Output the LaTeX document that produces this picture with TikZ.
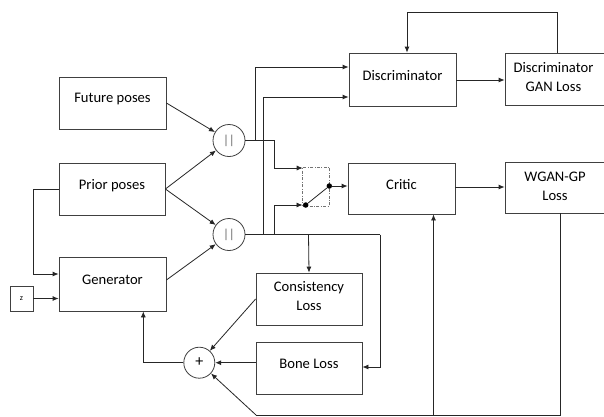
\documentclass[tikz,border=0pt]{standalone}
\usepackage{fontspec}
\setmainfont{Carlito}
\usetikzlibrary{arrows.meta,calc}
\begin{document}
\begin{tikzpicture}[x=1pt,y=-1pt,
  line width=0.8pt,
  every node/.style={text=black},
  box/.style={draw=black!75, line width=0.8pt, rectangle, inner sep=0pt, font=\fontsize{14.6}{19}\selectfont, align=center},
  circ/.style={draw=black!75, line width=0.8pt, circle, inner sep=0pt, minimum size=32pt},
  conn/.style={draw=black!85, line width=0.8pt},
  arr/.style={conn, -{Latex[length=6pt,width=5pt]}},
  dotst/.style={circle, fill=black, inner sep=0pt, minimum size=5.5pt},
  swbox/.style={draw=black!55, line width=0.8pt, dash pattern=on 3pt off 1.5pt on 0.8pt off 1.5pt, inner sep=0pt}
]
\clip (0,0) rectangle (604,416);
\fill[white] (0,0) rectangle (604,416);

% boxes
\node[box, minimum width=107pt, minimum height=52pt] (fut) at (112.5,103) {};
\node[anchor=center, font=\fontsize{14.6}{19}\selectfont] (futt) at (112.5,99) {Future poses};
\node[box, minimum width=106pt, minimum height=52pt] (prior) at (112,189) {};
\node[anchor=center, font=\fontsize{14.6}{19}\selectfont] (priort) at (112,185.5) {Prior poses};
\node[box, minimum width=107pt, minimum height=54pt] (gen) at (112.5,284) {};
\node[anchor=center, font=\fontsize{14.6}{19}\selectfont] (gent) at (112.5,280) {Generator};
\node[box, minimum width=23pt, minimum height=25pt] (z) at (21.5,298.5) {};
\node[font=\fontsize{8}{9}\selectfont] (zt) at (21.5,298.5) {z};

\node[box, minimum width=107pt, minimum height=53pt] (disc) at (402.5,79.5) {};
\node[anchor=center, font=\fontsize{14.6}{19}\selectfont] (disct) at (402.5,76) {Discriminator};
\node[box, minimum width=99pt, minimum height=52pt] (dgan) at (554.5,79) {};
\node[anchor=center, font=\fontsize{14.6}{19}\selectfont, align=center] (dgant) at (553.5,77.5) {Discriminator\\GAN Loss};

\node[box, minimum width=107pt, minimum height=51pt] (critic) at (401.5,188.5) {};
\node[anchor=center, font=\fontsize{14.6}{19}\selectfont] (critict) at (401.5,184.5) {Critic};
\node[box, minimum width=99pt, minimum height=51pt] (wgan) at (554.5,187.5) {};
\node[anchor=center, font=\fontsize{14.6}{19}\selectfont, align=center] (wgant) at (555,186) {WGAN-GP\\Loss};

\node[box, minimum width=106pt, minimum height=52pt] (cons) at (309,299) {};
\node[anchor=center, font=\fontsize{14.6}{19}\selectfont, align=center] (const) at (309,296.5) {Consistency\\Loss};
\node[box, minimum width=106pt, minimum height=52pt] (bone) at (309,368) {};
\node[anchor=center, font=\fontsize{14.6}{19}\selectfont] (bonet) at (309,363.5) {Bone Loss};

% circles
\node[circ] (c1) at (229,140.5) {};
\node[text=black!60, font=\fontsize{13}{13}\selectfont] (c1t) at (229,140.5) {||};
\node[circ] (c2) at (229,234.5) {};
\node[text=black!60, font=\fontsize{13}{13}\selectfont] (c2t) at (229,234.5) {||};
\node[circ, minimum size=31pt] (plus) at (199.3,362.7) {};
\node[font=\fontsize{16}{16}\selectfont] (plust) at (199.3,362) {+};

% switch
\node[swbox, minimum width=26.6pt, minimum height=38.7pt] (sw) at (316,186.7) {};
\node[dotst] (d1) at (305.7,205) {};
\node[dotst] (d2) at (329.3,186) {};
\draw[conn] (d1) -- (d2);

% coordinates
\coordinate (j1) at (255.3,140.5);
\coordinate (k1) at (274,140.5);
\coordinate (j2) at (263.3,234.5);
\coordinate (k2) at (274.3,234.5);
\coordinate (k3) at (308.5,234.5);
\coordinate (k4) at (380,234.5);
\coordinate (b1) at (560.7,415);
\coordinate (b2) at (256,415);
\coordinate (b3) at (433.5,415);
\coordinate (sin) at (302.7,168);
\coordinate (f1) at (557,12);

% connectors left
\draw[arr] (fut.east) -- (c1);
\draw[arr] (prior.east) -- (c1);
\draw[arr] (prior.east) -- (c2);
\draw[arr] ([yshift=4pt]gen.east) -- (c2);
\draw[arr] (prior.west) -- ++(-25,0) |- ([yshift=10pt]gen.west);
\draw[arr] (z.east) -- (z.east -| gen.west);

% circle outputs
\draw[arr] (c1.east) -- (k1) |- (sin);
\draw[arr] (j1) |- ([yshift=12.5pt]disc.west);
\draw[conn] (c2.east) -- (k4);
\draw[arr] (k4) |- ([yshift=1pt]bone.east);
\draw[arr] (j2) |- ([yshift=-17.5pt]disc.west);
\draw[arr] (k2) |- (d1);
\draw[arr] (k3) -- (cons.north);
\draw[arr] (d2) -- (d2 -| critic.west);

% right side
\draw[arr] (disc.east |- 0,80) -- (dgan.west |- 0,80);
\draw[arr] (f1 |- dgan.north) -- (f1) -| ([xshift=4.5pt]disc.north);
\draw[arr] (critic.east |- 0,187) -- (wgan.west |- 0,187);
\draw[conn] (b1 |- wgan.south) -- (b1) -- (b2);
\draw[arr] (b2) -- (plus);
\draw[arr] (b3) -- (b3 |- critic.south);

% losses to plus
\draw[arr] (cons.west) -- (plus);
\draw[arr] (bone.west |- plus) -- (plus);
\draw[arr] (plus.west) -| ([xshift=30.8pt]gen.south);
\end{tikzpicture}
\end{document}
